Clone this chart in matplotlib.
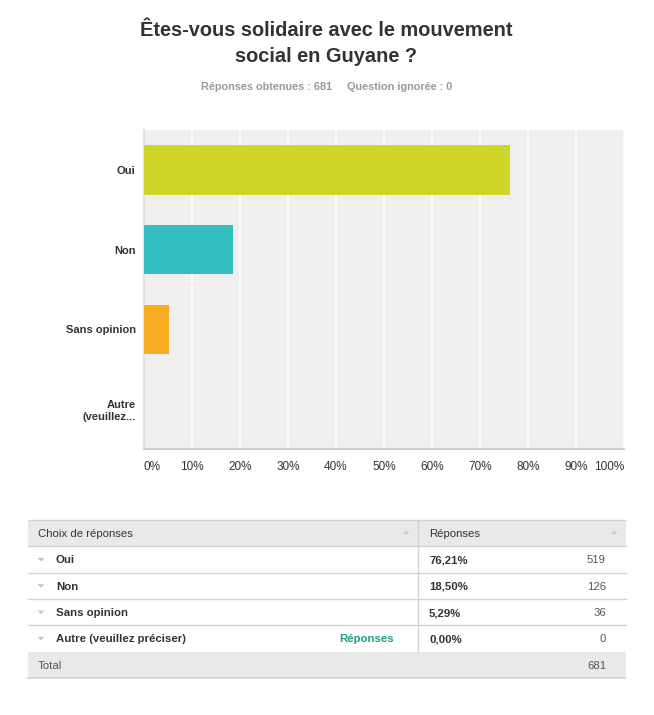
import matplotlib
matplotlib.use("Agg")
import matplotlib.pyplot as plt
from matplotlib.patches import Rectangle, Polygon

plt.rcParams['font.family'] = ['Liberation Sans', 'DejaVu Sans']

categories = ["Oui", "Non", "Sans opinion", "Autre\n(veuillez..."]
percents = [76.21, 18.50, 5.29, 0.00]
counts = [519, 126, 36, 0]
colors = ["#cfd62a", "#35bec1", "#f7ae22", "#999999"]
xticks = [0, 10, 20, 30, 40, 50, 60, 70, 80, 90, 100]
xtick_labels = ["0%", "10%", "20%", "30%", "40%", "50%", "60%", "70%", "80%", "90%", "100%"]
table_labels = ["Oui", "Non", "Sans opinion", "Autre (veuillez préciser)"]
pct_labels = ["76,21%", "18,50%", "5,29%", "0,00%"]
total = 681
skipped = 0

W, H = 654, 715
fig = plt.figure(figsize=(W / 100, H / 100), dpi=100)
fig.patch.set_facecolor("white")

def px(x, y):
    return x / W, 1 - y / H

# Title
fig.text(*px(326, 30), "Êtes-vous solidaire avec le mouvement", ha="center", va="center",
         fontsize=14.4, fontweight="bold", color="#333333")
fig.text(*px(326, 56), "social en Guyane ?", ha="center", va="center",
         fontsize=14.4, fontweight="bold", color="#333333")
fig.text(*px(327, 87), f"Réponses obtenues : {total}     Question ignorée : {skipped}", ha="center",
         va="center", fontsize=7.8, fontweight="bold", color="#999999")

# Bar chart
left, right, top, bottom = 144, 624, 130, 449
ax = fig.add_axes([left / W, 1 - bottom / H, (right - left) / W, (bottom - top) / H])
ax.set_facecolor("#efefef")
ypos = list(range(len(categories)))
ax.barh(ypos, percents, height=0.62, color=colors, edgecolor="none", zorder=3)
ax.set_xlim(0, 100)
ax.set_ylim(len(categories) - 0.5, -0.5)
ax.set_xticks(xticks)
ax.set_xticklabels(xtick_labels)
for i, lab in enumerate(ax.get_xticklabels()):
    if i == 0:
        lab.set_ha("left")
    elif i == len(xticks) - 1:
        lab.set_ha("right")
ax.grid(axis="x", color="white", linewidth=1.2, zorder=1)
ax.set_yticks(ypos)
ax.set_yticklabels(categories, fontweight="bold", fontsize=8, color="#333333")
ax.tick_params(axis="y", length=0, pad=6)
ax.tick_params(axis="x", length=0, pad=9, labelsize=8.5, labelcolor="#333333")
for s in ["top", "right"]:
    ax.spines[s].set_visible(False)
ax.spines["left"].set_color("#e0e0e0")
ax.spines["left"].set_linewidth(1.5)
ax.spines["bottom"].set_color("#cfcfcf")
ax.spines["bottom"].set_linewidth(1.5)
for lab in ax.get_yticklabels():
    lab.set_multialignment("right")

# Table
tab = fig.add_axes([0, 0, 1, 1])
tab.set_xlim(0, W)
tab.set_ylim(H, 0)
tab.axis("off")
tx0, tx1, tdiv = 28, 626, 418
row_h = 26.3
ty0 = 520
line_c = "#d3d3d3"
fs = 8.2
va = "center_baseline"
# header
tab.add_patch(Rectangle((tx0, ty0), tx1 - tx0, row_h, facecolor="#e9e9e9", edgecolor="none"))
tab.text(38, ty0 + row_h / 2, "Choix de réponses", va=va, ha="left", fontsize=fs, color="#333333")
tab.text(tdiv + 11, ty0 + row_h / 2, "Réponses", va=va, ha="left", fontsize=fs, color="#333333")

def tri(x, y, c, s=3.5):
    tab.add_patch(Polygon([[x - s, y - 1.5], [x + s, y - 1.5], [x, y + 2]], closed=True,
                          facecolor=c, edgecolor="none"))

tri(406, ty0 + row_h / 2, "#cccccc")
tri(614, ty0 + row_h / 2, "#cccccc")
for i, lab in enumerate(table_labels):
    y = ty0 + row_h * (i + 1)
    yc = y + row_h / 2
    tri(41, yc, "#c4c4c4")
    tab.text(56, yc, lab, va=va, ha="left", fontsize=fs, fontweight="bold", color="#333333")
    tab.text(tdiv + 11, yc, pct_labels[i], va=va, ha="left", fontsize=fs, fontweight="bold",
             color="#333333")
    tab.text(606, yc, str(counts[i]), va=va, ha="right", fontsize=fs, color="#555555")
    if i == len(table_labels) - 1:
        tab.text(394, yc, "Réponses", va=va, ha="right", fontsize=fs, fontweight="bold",
                 color="#1f9a8c")
    tab.plot([tx0, tx1], [y, y], color=line_c, linewidth=1)
# vertical divider
tab.plot([tdiv, tdiv], [ty0, ty0 + row_h * 5], color=line_c, linewidth=1)
# total row
yt = ty0 + row_h * 5
tab.add_patch(Rectangle((tx0, yt), tx1 - tx0, row_h, facecolor="#e9e9e9", edgecolor="none"))
tab.text(38, yt + row_h / 2, "Total", va=va, ha="left", fontsize=fs, color="#555555")
tab.text(606, yt + row_h / 2, str(total), va=va, ha="right", fontsize=fs, color="#555555")
tab.plot([tx0, tx1], [yt + row_h, yt + row_h], color=line_c, linewidth=1.2)
tab.plot([tx0, tx1], [ty0, ty0], color=line_c, linewidth=1)

fig.savefig("out.png", dpi=100, facecolor="white")
